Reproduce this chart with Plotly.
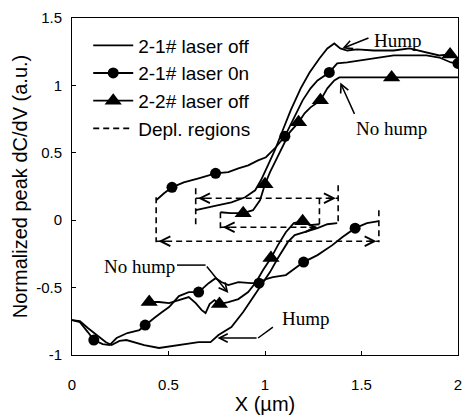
import plotly.graph_objects as go

# ---------------- data ----------------
tick_x = [0, 0.5, 1, 1.5, 2]
tick_x_text = ["0", "0.5", "1", "1.5", "2"]
tick_y = [-1, -0.5, 0, 0.5, 1, 1.5]
tick_y_text = ["-1", "-0.5", "0", "0.5", "1", "1.5"]

# 2-1# laser off (plain line)
off21_up_x = [0.641, 0.697, 0.759, 0.826, 0.897, 0.949, 0.979, 1.015, 1.051, 1.092, 1.133, 1.185, 1.231,
              1.282, 1.323, 1.359, 1.390, 1.426, 1.477, 1.564, 1.667, 1.749, 1.836, 1.903, 1.954, 2.0]
off21_up_y = [0.074, 0.089, 0.111, 0.133, 0.170, 0.222, 0.296, 0.407, 0.519, 0.667, 0.815, 0.978, 1.096,
              1.200, 1.274, 1.311, 1.274, 1.259, 1.267, 1.259, 1.259, 1.274, 1.244, 1.222, 1.230, 1.200]
off21_lo_x = [0.0, 0.041, 0.082, 0.128, 0.174, 0.205, 0.246, 0.282, 0.323, 0.374, 0.451, 0.513, 0.579, 0.656,
              0.718, 0.759, 0.826, 0.887, 0.928, 0.979, 1.026, 1.067, 1.118, 1.154, 1.205, 1.272, 1.323, 1.374]
off21_lo_y = [-0.741, -0.748, -0.800, -0.852, -0.904, -0.926, -0.896, -0.889, -0.904, -0.926, -0.948, -0.933,
              -0.919, -0.904, -0.904, -0.852, -0.793, -0.681, -0.593, -0.481, -0.385, -0.281, -0.163, -0.111,
              -0.089, -0.059, -0.030, -0.022]

# 2-1# laser on (line with circles)
on21_up_x = [0.436, 0.477, 0.518, 0.579, 0.656, 0.744, 0.810, 0.862, 0.913, 0.964, 1.005, 1.056, 1.103, 1.144,
             1.195, 1.236, 1.272, 1.333, 1.374, 1.426, 1.492, 1.579, 1.667, 1.749, 1.836, 1.903, 1.964, 2.0]
on21_up_y = [0.148, 0.200, 0.244, 0.281, 0.311, 0.348, 0.356, 0.385, 0.407, 0.444, 0.467, 0.541, 0.622, 0.741,
             0.889, 0.978, 1.037, 1.096, 1.163, 1.170, 1.185, 1.207, 1.222, 1.222, 1.222, 1.207, 1.170, 1.163]
on21_lo_x = [0.0, 0.041, 0.082, 0.113, 0.159, 0.195, 0.231, 0.287, 0.349, 0.379, 0.426, 0.467, 0.503, 0.554,
             0.605, 0.656, 0.708, 0.744, 0.774, 0.810, 0.862, 0.928, 0.969, 1.005, 1.041, 1.108, 1.200, 1.272,
             1.349, 1.400, 1.467, 1.528, 1.590]
on21_lo_y = [-0.741, -0.756, -0.830, -0.889, -0.919, -0.926, -0.874, -0.837, -0.815, -0.778, -0.726, -0.681,
             -0.644, -0.563, -0.533, -0.533, -0.467, -0.430, -0.459, -0.481, -0.459, -0.467, -0.467, -0.437,
             -0.422, -0.407, -0.311, -0.259, -0.185, -0.126, -0.059, -0.022, -0.007]
on21_mk_x = [0.113, 0.379, 0.656, 0.969, 1.200, 1.467, 0.518, 0.744, 1.103, 1.333, 2.0]
on21_mk_y = [-0.889, -0.778, -0.533, -0.467, -0.311, -0.059, 0.244, 0.348, 0.622, 1.096, 1.163]

# 2-2# laser off (line with triangles)
off22_up_x = [0.769, 0.821, 0.887, 0.938, 0.974, 1.000, 1.026, 1.056, 1.092, 1.128, 1.174, 1.205, 1.236, 1.287,
              1.323, 1.359, 1.385, 1.656, 2.0]
off22_up_y = [0.059, 0.052, 0.052, 0.074, 0.148, 0.267, 0.356, 0.444, 0.556, 0.652, 0.726, 0.793, 0.837, 0.889,
              0.978, 1.037, 1.059, 1.059, 1.059]
off22_lo_x = [0.400, 0.451, 0.503, 0.554, 0.605, 0.641, 0.672, 0.692, 0.713, 0.738, 0.764, 0.810, 0.862, 0.913,
              0.954, 0.990, 1.031, 1.067, 1.108, 1.149, 1.195, 1.231, 1.282]
off22_lo_y = [-0.607, -0.607, -0.615, -0.593, -0.570, -0.615, -0.667, -0.689, -0.622, -0.593, -0.622, -0.607,
              -0.585, -0.533, -0.459, -0.370, -0.281, -0.185, -0.089, -0.022, -0.007, -0.037, -0.030]
off22_mk_x = [0.400, 0.764, 1.031, 1.195, 0.887, 1.000, 1.174, 1.287, 1.656, 1.959]
off22_mk_y = [-0.607, -0.622, -0.281, -0.007, 0.052, 0.267, 0.726, 0.889, 1.059, 1.230]

# depletion regions: start x, end x, arrow level, bar extents (left top/bottom, right top/bottom)
depl_x0 = [0.641, 0.769, 0.436]
depl_x1 = [1.379, 1.282, 1.590]
depl_y = [0.163, -0.052, -0.156]
depl_l_top = [0.237, 0.059, 0.170]
depl_l_bot = [-0.037, -0.089, -0.163]
depl_r_top = [0.259, 0.163, 0.074]
depl_r_bot = [-0.022, -0.059, -0.163]

legend_names = ["2-1# laser off", "2-1# laser 0n", "2-2# laser off", "Depl. regions"]

# ---------------- figure ----------------
BLACK = "black"
LW = 1.8
fig = go.Figure()


def seg(xa, ya, xb, yb):
    return list(xa) + [None] + list(xb), list(ya) + [None] + list(yb)


# 2-1# laser off
x, y = seg(off21_up_x, off21_up_y, off21_lo_x, off21_lo_y)
fig.add_trace(go.Scatter(x=x, y=y, mode="lines", line=dict(color=BLACK, width=LW),
                         name=legend_names[0], showlegend=True))

# 2-1# laser on
x, y = seg(on21_up_x, on21_up_y, on21_lo_x, on21_lo_y)
fig.add_trace(go.Scatter(x=x, y=y, mode="lines", line=dict(color=BLACK, width=LW), showlegend=False))
fig.add_trace(go.Scatter(x=on21_mk_x, y=on21_mk_y, mode="markers",
                         marker=dict(symbol="circle", size=11, color=BLACK), showlegend=False))
fig.add_trace(go.Scatter(x=[None], y=[None], mode="lines+markers", name=legend_names[1],
                         line=dict(color=BLACK, width=LW),
                         marker=dict(symbol="circle", size=11, color=BLACK)))

# 2-2# laser off
x, y = seg(off22_up_x, off22_up_y, off22_lo_x, off22_lo_y)
fig.add_trace(go.Scatter(x=x, y=y, mode="lines", line=dict(color=BLACK, width=LW), showlegend=False))
fig.add_trace(go.Scatter(x=off22_mk_x, y=off22_mk_y, mode="markers",
                         marker=dict(symbol="triangle-up", size=15, color=BLACK), showlegend=False))
fig.add_trace(go.Scatter(x=[None], y=[None], mode="lines+markers", name=legend_names[2],
                         line=dict(color=BLACK, width=LW),
                         marker=dict(symbol="triangle-up", size=15, color=BLACK)))

# depletion regions (dashed)
dx, dy = [], []
for x0, x1, yy, lt, lb, rt, rb in zip(depl_x0, depl_x1, depl_y, depl_l_top, depl_l_bot, depl_r_top, depl_r_bot):
    dx += [x0, x1, None, x0, x0, None, x1, x1, None]
    dy += [yy, yy, None, lt, lb, None, rt, rb, None]
fig.add_trace(go.Scatter(x=dx, y=dy, mode="lines", name=legend_names[3],
                         line=dict(color=BLACK, width=1.6, dash="6px,4px")))

annotations = []
# arrowheads of depletion arrows
for x0, x1, yy in zip(depl_x0, depl_x1, depl_y):
    annotations.append(dict(x=x0 + 0.012, y=yy, ax=x0 + 0.06, ay=yy, xref="x", yref="y", axref="x", ayref="y",
                            showarrow=True, arrowhead=5, arrowsize=1.2, arrowwidth=1.6, arrowcolor=BLACK, text=""))
    annotations.append(dict(x=x1 - 0.012, y=yy, ax=x1 - 0.06, ay=yy, xref="x", yref="y", axref="x", ayref="y",
                            showarrow=True, arrowhead=5, arrowsize=1.2, arrowwidth=1.6, arrowcolor=BLACK, text=""))

serif = dict(family="Liberation Serif, Times New Roman, serif", size=19, color=BLACK)
labels = [("Hump", 1.687, 1.333), ("No hump", 1.656, 0.681), ("No hump", 0.349, -0.340), ("Hump", 1.21, -0.726)]
for t, lx, ly in labels:
    annotations.append(dict(x=lx, y=ly, xref="x", yref="y", text=t, showarrow=False, font=serif))

pointers = [((1.544, 1.356), (1.400, 1.274)), ((1.467, 0.778), (1.390, 1.022)),
            ((0.692, -0.333), (0.810, -0.540)), ((0.964, -0.874), (0.754, -0.874))]
for (tx, ty), (hx, hy) in pointers:
    annotations.append(dict(x=hx, y=hy, ax=tx, ay=ty, xref="x", yref="y", axref="x", ayref="y", text="",
                            showarrow=True, arrowhead=5, arrowsize=1.1, arrowwidth=1.5, arrowcolor=BLACK))

shapes = [dict(type="line", xref="x", yref="y", x0=0.544, y0=-0.333, x1=0.692, y1=-0.333,
               line=dict(color=BLACK, width=1.5)),
          dict(type="line", xref="x", yref="y", x0=1.041, y0=-0.793, x1=0.964, y1=-0.874,
               line=dict(color=BLACK, width=1.5))]

tickfont = dict(family="Liberation Sans Narrow, Arial Narrow, Liberation Sans, Arial", size=15, color=BLACK)
titlefont = dict(family="Liberation Sans, Arial, sans-serif", size=20, color=BLACK)

fig.update_layout(
    width=466, height=417,
    margin=dict(l=72, r=4, t=18, b=62),
    paper_bgcolor="white", plot_bgcolor="white",
    annotations=annotations, shapes=shapes,
    legend=dict(x=0.042, y=0.975, xanchor="left", yanchor="top", bgcolor="rgba(0,0,0,0)",
                font=dict(family="Liberation Sans, Arial, sans-serif", size=19, color=BLACK),
                itemwidth=40, tracegroupgap=0),
    xaxis=dict(range=[0, 2], tickvals=tick_x, ticktext=tick_x_text, ticks="inside", ticklen=4,
               tickcolor=BLACK, showline=True, mirror=True, linecolor=BLACK, linewidth=1,
               showgrid=False, zeroline=False, tickfont=tickfont, ticklabelstandoff=16,
               ticklabeloverflow="allow",
               title=dict(text="X (µm)", font=titlefont, standoff=4)),
    yaxis=dict(range=[-1, 1.5], tickvals=tick_y, ticktext=tick_y_text, ticks="inside", ticklen=4,
               tickcolor=BLACK, showline=True, mirror=True, linecolor=BLACK, linewidth=1,
               showgrid=False, zeroline=False, tickfont=tickfont, ticklabelstandoff=6,
               title=dict(text="Normalized peak dC/dV (a.u.)", font=titlefont, standoff=3)),
)

fig.write_html("out.html", config={"displayModeBar": False},
               post_script="document.body.style.margin='0px';")
